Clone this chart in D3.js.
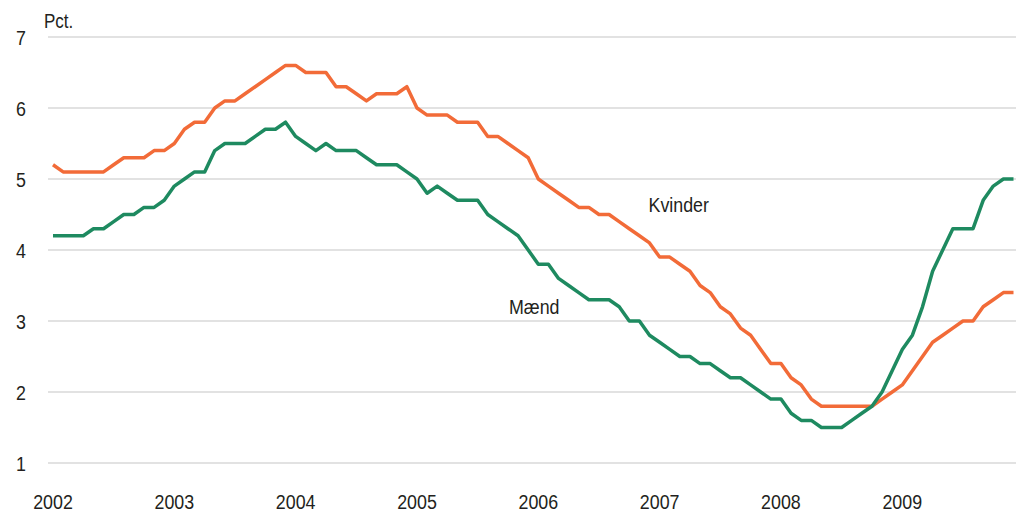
<!DOCTYPE html>
<meta charset="utf-8">
<head>
<style>
body { margin: 0; background: #fff; }
svg { display: block; }
text { font-family: "Liberation Sans", Arial, sans-serif; fill: #231f20; }
.grid line { stroke: #d9d9d9; stroke-width: 1.5px; }
.series { fill: none; stroke-width: 3.5px; stroke-linejoin: round; stroke-linecap: butt; }
</style>
<script src="https://d3js.org/d3.v7.min.js"></script>
</head>
<body>
<svg width="1023" height="528"></svg>
<script>

// monthly, Jan 2002 - Dec 2009
var years = ["2002", "2003", "2004", "2005", "2006", "2007", "2008", "2009"];
var yTicks = [1, 2, 3, 4, 5, 6, 7];

var kvinder = [
  5.2,5.1,5.1,5.1,5.1,5.1,5.2,5.3,5.3,5.3,5.4,5.4,
  5.5,5.7,5.8,5.8,6.0,6.1,6.1,6.2,6.3,6.4,6.5,6.6,
  6.6,6.5,6.5,6.5,6.3,6.3,6.2,6.1,6.2,6.2,6.2,6.3,
  6.0,5.9,5.9,5.9,5.8,5.8,5.8,5.6,5.6,5.5,5.4,5.3,
  5.0,4.9,4.8,4.7,4.6,4.6,4.5,4.5,4.4,4.3,4.2,4.1,
  3.9,3.9,3.8,3.7,3.5,3.4,3.2,3.1,2.9,2.8,2.6,2.4,
  2.4,2.2,2.1,1.9,1.8,1.8,1.8,1.8,1.8,1.8,1.9,2.0,
  2.1,2.3,2.5,2.7,2.8,2.9,3.0,3.0,3.2,3.3,3.4,3.4
];

var maend = [
  4.2,4.2,4.2,4.2,4.3,4.3,4.4,4.5,4.5,4.6,4.6,4.7,
  4.9,5.0,5.1,5.1,5.4,5.5,5.5,5.5,5.6,5.7,5.7,5.8,
  5.6,5.5,5.4,5.5,5.4,5.4,5.4,5.3,5.2,5.2,5.2,5.1,
  5.0,4.8,4.9,4.8,4.7,4.7,4.7,4.5,4.4,4.3,4.2,4.0,
  3.8,3.8,3.6,3.5,3.4,3.3,3.3,3.3,3.2,3.0,3.0,2.8,
  2.7,2.6,2.5,2.5,2.4,2.4,2.3,2.2,2.2,2.1,2.0,1.9,
  1.9,1.7,1.6,1.6,1.5,1.5,1.5,1.6,1.7,1.8,2.0,2.3,
  2.6,2.8,3.2,3.7,4.0,4.3,4.3,4.3,4.7,4.9,5.0,5.0
];

var seriesNames = ["Kvinder", "Mænd"];
var seriesColors = ["#f26b38", "#1e8a60"];
// label anchor: [month index, value]
var labelAt = [[58.9, 4.53], [45.1, 3.1]];

var svg = d3.select("svg"),
    width = +svg.attr("width"),
    height = +svg.attr("height");

var x = d3.scaleLinear()
    .domain([0, kvinder.length - 1])
    .range([53, 1013.5]);

var y = d3.scaleLinear()
    .domain([1, 7])
    .range([463, 37]);

// the original uses a condensed face, so squeeze the text a bit
function squeeze(px, py) {
  return "translate(" + px + "," + py + ") scale(0.85,1)";
}

// gridlines
svg.append("g")
    .attr("class", "grid")
  .selectAll("line")
  .data(yTicks)
  .enter().append("line")
    .attr("x1", 48)
    .attr("x2", 1016)
    .attr("y1", function(d) { return y(d); })
    .attr("y2", function(d) { return y(d); });

// y labels
svg.append("g")
  .selectAll("text")
  .data(yTicks)
  .enter().append("text")
    .attr("transform", function(d) { return squeeze(26, y(d)); })
    .attr("dy", "0.36em")
    .attr("text-anchor", "end")
    .style("font-size", "21px")
    .text(function(d) { return d; });

svg.append("text")
    .attr("transform", squeeze(44, 28))
    .style("font-size", "20px")
    .text("Pct.");

// x labels, at January of each year
svg.append("g")
  .selectAll("text")
  .data(years)
  .enter().append("text")
    .attr("transform", function(d, i) { return squeeze(x(i * 12), 509); })
    .attr("text-anchor", "middle")
    .style("font-size", "21px")
    .text(function(d) { return d; });

var line = d3.line()
    .x(function(d, i) { return x(i); })
    .y(function(d) { return y(d); });

var allSeries = [kvinder, maend];

svg.append("g")
  .selectAll("path")
  .data(allSeries)
  .enter().append("path")
    .attr("class", "series")
    .attr("stroke", function(d, i) { return seriesColors[i]; })
    .attr("d", line);

svg.append("g")
  .selectAll("text")
  .data(seriesNames)
  .enter().append("text")
    .attr("transform", function(d, i) { return squeeze(x(labelAt[i][0]), y(labelAt[i][1])); })
    .style("font-size", "21px")
    .text(function(d) { return d; });

</script>
</body>
